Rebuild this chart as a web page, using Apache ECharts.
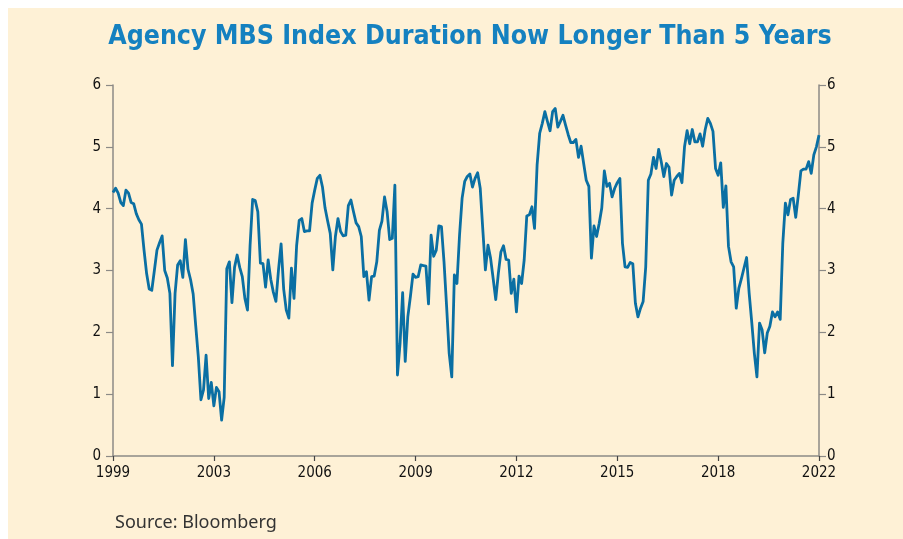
<!DOCTYPE html>
<html>
<head>
<meta charset="utf-8">
<script src="https://cdn.jsdelivr.net/npm/echarts@6/dist/echarts.min.js"></script>
<style>
html,body{margin:0;padding:0;background:#ffffff;width:903px;height:539px;overflow:hidden;}
#panel{position:absolute;left:8px;top:8px;width:895px;height:531px;background:#FEF1D6;}
#chart{width:895px;height:531px;}
</style>
</head>
<body>
<div id="panel"><div id="chart"></div></div>
<script>
const titleText = 'Agency MBS Index Duration Now Longer Than 5 Years';
const sourceText = 'Source: Bloomberg';
const tickLabels = ['1999','2003','2006','2009','2012','2015','2018','2022'];
const yTicks = [0,1,2,3,4,5,6];
const duration = [
4.26,4.33,4.25,4.10,4.05,4.30,4.25,4.10,4.08,3.92,
3.82,3.75,3.33,2.95,2.70,2.68,3.00,3.33,3.45,3.56,
3.00,2.88,2.63,1.46,2.63,3.09,3.16,2.89,3.50,3.02,
2.85,2.62,2.10,1.60,0.91,1.07,1.63,0.93,1.19,0.81,
1.11,1.04,0.58,0.95,3.03,3.14,2.48,3.05,3.25,3.05,
2.90,2.55,2.36,3.40,4.15,4.13,3.95,3.12,3.11,2.73,
3.17,2.86,2.65,2.50,3.01,3.43,2.70,2.36,2.23,3.04,
2.55,3.40,3.81,3.84,3.63,3.64,3.64,4.09,4.30,4.49,
4.54,4.35,4.01,3.80,3.60,3.01,3.55,3.84,3.63,3.56,
3.57,4.05,4.14,3.95,3.77,3.71,3.55,2.90,2.98,2.52,
2.90,2.91,3.14,3.65,3.80,4.19,3.95,3.50,3.52,4.38,
1.31,1.82,2.64,1.53,2.25,2.58,2.94,2.89,2.90,3.09,
3.08,3.07,2.46,3.57,3.23,3.33,3.72,3.71,3.14,2.42,
1.66,1.28,2.93,2.79,3.57,4.17,4.44,4.52,4.56,4.35,
4.49,4.58,4.33,3.66,3.01,3.41,3.20,2.87,2.53,2.95,
3.30,3.40,3.18,3.17,2.63,2.86,2.33,2.91,2.79,3.17,
3.88,3.90,4.03,3.68,4.71,5.22,5.38,5.57,5.41,5.26,
5.57,5.62,5.32,5.41,5.51,5.35,5.20,5.07,5.07,5.12,
4.83,5.01,4.73,4.46,4.36,3.20,3.72,3.55,3.76,4.01,
4.61,4.36,4.41,4.19,4.33,4.42,4.49,3.44,3.06,3.05,
3.13,3.11,2.47,2.25,2.39,2.50,3.06,4.46,4.56,4.83,
4.65,4.96,4.76,4.52,4.73,4.67,4.22,4.46,4.52,4.57,
4.42,5.00,5.26,5.05,5.28,5.08,5.08,5.21,5.01,5.28,
5.46,5.38,5.25,4.65,4.54,4.74,4.02,4.37,3.39,3.14,
3.06,2.39,2.71,2.87,3.04,3.21,2.63,2.16,1.66,1.28,
2.15,2.04,1.67,1.99,2.10,2.33,2.25,2.33,2.21,3.44,
4.09,3.90,4.15,4.17,3.86,4.22,4.61,4.64,4.64,4.76,
4.57,4.87,5.00,5.19
];

const n = duration.length;
const step = (n - 1) / (tickLabels.length - 1);
const seriesData = duration.map((v, i) => [i, v]);
const FONT = "'DejaVu Sans Condensed','Liberation Sans',sans-serif";
const axisColor = '#8C8A86';

const chart = echarts.init(document.getElementById('chart'), null, {renderer: 'canvas'});
const yAxisCommon = {
  type: 'value', min: yTicks[0], max: yTicks[yTicks.length - 1], interval: 1,
  axisLine: {show: true, lineStyle: {color: axisColor, width: 1.5}},
  axisTick: {show: true, inside: false, length: 7, lineStyle: {color: axisColor, width: 1.2}},
  splitLine: {show: false},
  axisLabel: {color: '#111', fontFamily: FONT, fontSize: 15}
};
chart.setOption({
  animation: false,
  backgroundColor: 'transparent',
  title: {
    text: titleText, left: 457, top: 11, textAlign: 'center',
    textStyle: {color: '#1581C0', fontFamily: FONT, fontWeight: 'bold', fontSize: 26.5}
  },
  graphic: [{
    type: 'text', left: 107, top: 506,
    style: {text: sourceText, fill: '#333', font: "18px 'Noto Sans','Open Sans',sans-serif"}
  }],
  grid: {left: 105, top: 77, right: 84, bottom: 83, containLabel: false},
  xAxis: {
    type: 'value', min: 0, max: n - 1, interval: step,
    axisLine: {show: true, onZero: false, lineStyle: {color: axisColor, width: 1.5}},
    axisTick: {show: true, length: 5, lineStyle: {color: '#444', width: 1.2}},
    splitLine: {show: false},
    axisLabel: {
      color: '#111', fontFamily: FONT, fontSize: 15, margin: 10,
      showMinLabel: true, showMaxLabel: true,
      formatter: v => tickLabels[Math.round(v / step)] || ''
    }
  },
  yAxis: [
    Object.assign({}, yAxisCommon, {position: 'left', axisLabel: Object.assign({}, yAxisCommon.axisLabel, {margin: 12})}),
    Object.assign({}, yAxisCommon, {position: 'right', axisLabel: Object.assign({}, yAxisCommon.axisLabel, {margin: 8})})
  ],
  series: [{
    type: 'line', data: seriesData, yAxisIndex: 0,
    showSymbol: false, symbol: 'none',
    lineStyle: {color: '#0A6FA3', width: 2.8, join: 'round'}
  }]
});
</script>
</body>
</html>
